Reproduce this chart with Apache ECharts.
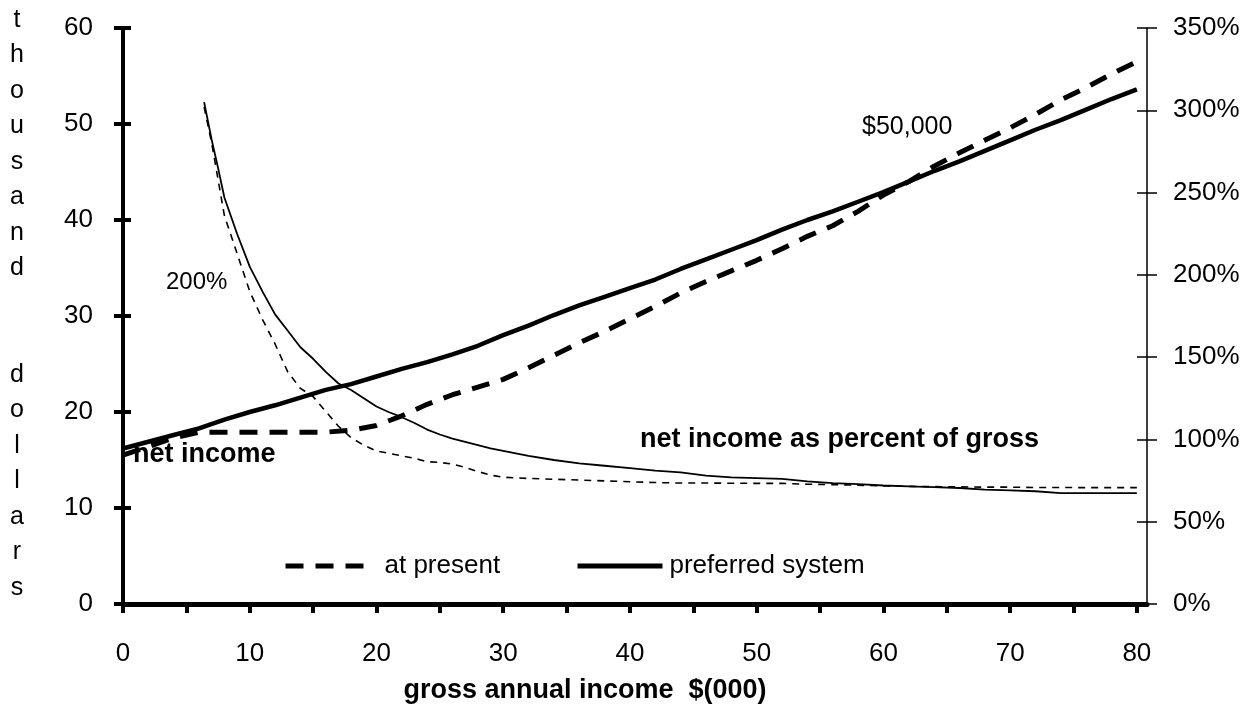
<!DOCTYPE html>
<html><head><meta charset="utf-8">
<script src="https://cdn.jsdelivr.net/npm/echarts@6/dist/echarts.min.js"></script>
<style>html,body{margin:0;padding:0;background:#fff}#c{width:1260px;height:726px}</style>
</head><body><div id="c"></div>
<script>
// gross annual income $(000) for net income series
const grossX = [0,2,4,6,8,10,12,14,16,18,20,22,24,26,28,30,32,34,36,38,40,42,44,46,48,50,52,54,56,58,60,62,64,66,68,70,72,74,76,78,80];
// net income, thousand dollars
const netPresent = [15.5,16.4,17.3,17.9,17.9,17.9,17.9,17.9,17.9,18.1,18.6,19.6,20.8,21.8,22.6,23.4,24.6,25.9,27.2,28.4,29.7,31.0,32.4,33.6,34.7,35.8,37.0,38.3,39.4,40.9,42.6,44.0,45.6,47.0,48.3,49.6,51.0,52.5,53.8,55.2,56.5];
const netPreferred = [16.2,16.9,17.6,18.3,19.2,20.0,20.7,21.5,22.3,22.9,23.7,24.5,25.2,26.0,26.9,28.0,29.0,30.1,31.1,32.0,32.9,33.8,34.9,35.9,36.9,37.9,39.0,40.0,40.9,41.9,42.9,44.0,45.1,46.1,47.2,48.3,49.4,50.4,51.5,52.6,53.6];
// gross income for percent series
const pctX = [6.4,7,7.5,8,9,10,11,12,13,14,15,16,17,18,19,20,21,22,23,24,25,26,27,28,29,30,32,34,36,38,40,42,44,46,48,50,52,54,56,58,60,62,64,66,68,70,72,74,76,78,80];
// net income as percent of gross
const pctPresent = [302,280,258,236,213,190,173,158,141,131,126,117,108,101,96.5,93,91.5,90,88.5,86.5,86,85,83,80.5,78.3,77,76.3,75.8,75.3,74.8,74.3,73.8,73.5,73.5,73.4,73.3,73.3,72.8,72.5,72.2,71.8,71.5,71.3,71.2,71,71,70.8,70.8,70.7,70.7,70.7];
const pctPreferred = [305,282,265,247,225,205,190,176,166,156,149,141,134,130,125,120,116.5,113.5,110,106,103,100.5,98.5,96.5,94.5,93,90,87.5,85.5,84,82.5,81,80,78,77,76.5,76,74.5,73.5,72.8,72,71.5,71,70.5,69.5,69,68.5,67.4,67.4,67.4,67.4];
// axis ticks
const xTicks = [0,5,10,15,20,25,30,35,40,45,50,55,60,65,70,75,80];
const xLabels = [0,10,20,30,40,50,60,70,80];

const FONT = "'Liberation Sans', Arial, sans-serif";
const pair = (xs, ys) => xs.map((x, i) => [x, ys[i]]);

const chart = echarts.init(document.getElementById('c'), null, {renderer: 'canvas'});
const baseX = {
  type: 'value', min: 0, max: 80.8, gridIndex: 0,
  splitLine: {show: false}
};
const legendCommon = {
  top: 548, itemWidth: 82, itemHeight: 12,
  itemStyle: {color: 'rgba(0,0,0,0)', borderWidth: 0, opacity: 0},
  lineStyle: {width: 5}
};
chart.setOption({
  animation: false,
  backgroundColor: '#fff',
  textStyle: {fontFamily: FONT, color: '#000'},
  grid: {left: 123, right: 113, top: 28, bottom: 122, containLabel: false},
  legend: [
    Object.assign({}, legendCommon, {data: ['at present'], left: 278,
     textStyle: {fontSize: 26, fontFamily: FONT, color: '#000', padding: [0, 0, 0, 12]}}),
    Object.assign({}, legendCommon, {data: ['preferred system'], left: 570, itemWidth: 85,
     textStyle: {fontSize: 26, fontFamily: FONT, color: '#000', padding: [0, 0, 0, 2]}})
  ],
  xAxis: [
    Object.assign({}, baseX, {
      axisLine: {show: true, lineStyle: {color: '#000', width: 5}},
      axisTick: {show: true, inside: false, length: 9, lineStyle: {color: '#000', width: 4}, customValues: xTicks},
      axisLabel: {show: true, fontSize: 26, color: '#000', fontFamily: FONT, margin: 37, customValues: xLabels}
    }),
    Object.assign({}, baseX, {
      axisLine: {show: false},
      axisTick: {show: true, inside: true, length: 9, lineStyle: {color: '#000', width: 4}, customValues: xTicks},
      axisLabel: {show: false}
    })
  ],
  yAxis: [
    {type: 'value', position: 'left', min: 0, max: 60, interval: 10, splitLine: {show: false},
     axisLine: {show: true, lineStyle: {color: '#000', width: 4}},
     axisTick: {show: true, inside: false, length: 9, lineStyle: {color: '#000', width: 4}},
     axisLabel: {fontSize: 26, color: '#000', fontFamily: FONT, margin: 30}},
    {type: 'value', position: 'left', min: 0, max: 60, interval: 10, splitLine: {show: false},
     axisLine: {show: false},
     axisTick: {show: true, inside: true, length: 8, lineStyle: {color: '#000', width: 4}},
     axisLabel: {show: false}},
    {type: 'value', position: 'right', min: 0, max: 350, interval: 50, splitLine: {show: false},
     axisLine: {show: true, lineStyle: {color: '#000', width: 1.5}},
     axisTick: {show: true, inside: false, length: 10, lineStyle: {color: '#000', width: 1.5}},
     axisLabel: {fontSize: 26, color: '#000', fontFamily: FONT, margin: 26, formatter: '{value}%'}},
    {type: 'value', position: 'right', min: 0, max: 350, interval: 50, splitLine: {show: false},
     axisLine: {show: false},
     axisTick: {show: true, inside: true, length: 10, lineStyle: {color: '#000', width: 1.5}},
     axisLabel: {show: false}}
  ],
  series: [
    {name: 'at present', type: 'line', xAxisIndex: 0, yAxisIndex: 0, symbol: 'none',
     data: pair(grossX, netPresent),
     lineStyle: {color: '#000', width: 5, type: [18, 12]}, itemStyle: {color: '#000'}},
    {name: 'preferred system', type: 'line', xAxisIndex: 0, yAxisIndex: 0, symbol: 'none',
     data: pair(grossX, netPreferred),
     lineStyle: {color: '#000', width: 4.5, type: 'solid'}, itemStyle: {color: '#000'}},
    {name: 'at present (% of gross)', type: 'line', xAxisIndex: 0, yAxisIndex: 2, symbol: 'none',
     data: pair(pctX, pctPresent),
     lineStyle: {color: '#000', width: 1.6, type: [7, 6]}, itemStyle: {color: '#000'}},
    {name: 'preferred system (% of gross)', type: 'line', xAxisIndex: 0, yAxisIndex: 2, symbol: 'none',
     data: pair(pctX, pctPreferred),
     lineStyle: {color: '#000', width: 1.8, type: 'solid'}, itemStyle: {color: '#000'}}
  ],
  graphic: [
    {type: 'text', x: 17, y: 2, style: {text: 't\nh\no\nu\ns\na\nn\nd\n\n\nd\no\nl\nl\na\nr\ns', font: '25px ' + FONT, fill: '#000', align: 'center', verticalAlign: 'top', lineHeight: 35.5}},
    {type: 'text', x: 133, y: 455, style: {text: 'net income', font: 'bold 27px ' + FONT, fill: '#000', align: 'left', verticalAlign: 'middle'}},
    {type: 'text', x: 640, y: 440, style: {text: 'net income as percent of gross', font: 'bold 27px ' + FONT, fill: '#000', align: 'left', verticalAlign: 'middle'}},
    {type: 'text', x: 166, y: 282, style: {text: '200%', font: '24px ' + FONT, fill: '#000', align: 'left', verticalAlign: 'middle'}},
    {type: 'text', x: 862, y: 127, style: {text: '$50,000', font: '25px ' + FONT, fill: '#000', align: 'left', verticalAlign: 'middle'}},
    {type: 'text', x: 585, y: 691, style: {text: 'gross annual income  $(000)', font: 'bold 27px ' + FONT, fill: '#000', align: 'center', verticalAlign: 'middle'}}
  ]
});
</script>
</body></html>
